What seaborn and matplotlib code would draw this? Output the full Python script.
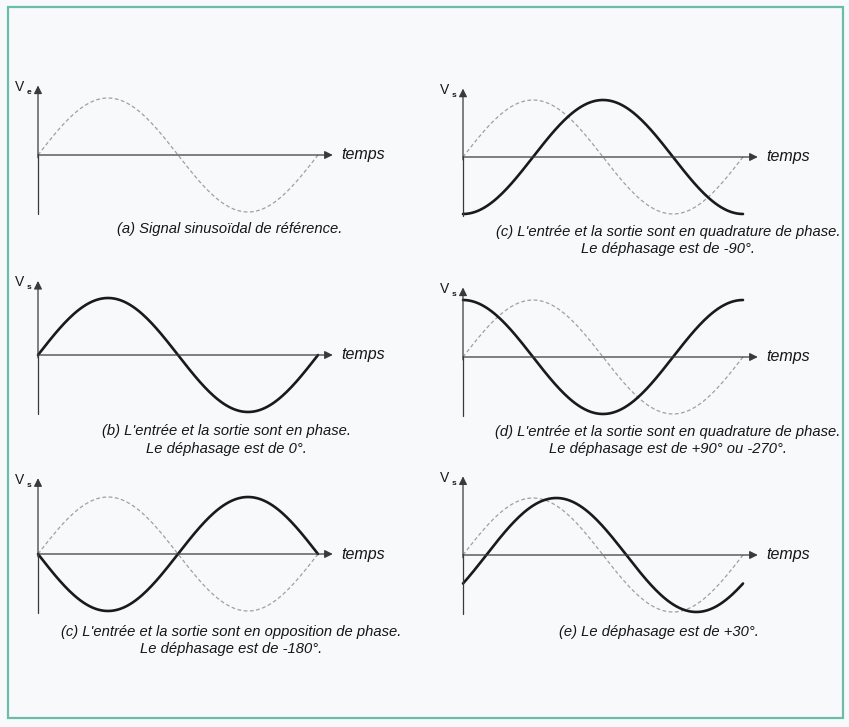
"""
Déphasage entre signal d'entrée et signal de sortie
"""

import numpy as np
import pandas as pd
import matplotlib.pyplot as plt
from matplotlib.patches import Rectangle
import seaborn as sns

sns.set_style("white")
plt.rcParams['font.family'] = ['Liberation Sans', 'DejaVu Sans']

# données : déphasage tracé (degrés) de la sortie par rapport à l'entrée
panneaux = ['a', 'b', 'c_opp', 'c_quad', 'd', 'e']
dephasages = [None, 0, -180, -90, 90, -30]
indices_v = ['e', 's', 's', 's', 's', 's']
legendes = [
    ["(a) Signal sinusoïdal de référence."],
    ["(b) L'entrée et la sortie sont en phase.", "Le déphasage est de 0°."],
    ["(c) L'entrée et la sortie sont en opposition de phase.", "Le déphasage est de -180°."],
    ["(c) L'entrée et la sortie sont en quadrature de phase.", "Le déphasage est de -90°."],
    ["(d) L'entrée et la sortie sont en quadrature de phase.", "Le déphasage est de +90° ou -270°."],
    ["(e) Le déphasage est de +30°."],
]
angles = np.arange(0, 361, 2)

# mise en page (pixels) : origine des axes, hauteur du trait vertical, légende
W, H = 849, 727
PERIODE, AMPL = 280, 57
x_orig = {'a': 38, 'b': 38, 'c_opp': 38, 'c_quad': 463, 'd': 463, 'e': 463}
y_orig = {'a': 155, 'b': 355, 'c_opp': 554, 'c_quad': 157, 'd': 357, 'e': 555}
haut_axe = {'a': 1.22, 'b': 1.3, 'c_opp': 1.33, 'c_quad': 1.2, 'd': 1.22, 'e': 1.38}
leg_x = {'a': 230, 'b': 226, 'c_opp': 231, 'c_quad': 668, 'd': 668, 'e': 659}
leg_y = {'a': 229, 'b': 431, 'c_opp': 632, 'c_quad': 232, 'd': 432, 'e': 632}

fig = plt.figure(figsize=(W / 100, H / 100), dpi=100)
fig.patch.set_facecolor('#f7f9fa')
fig.patches.append(Rectangle((8 / W, 1 - 718 / H), 835 / W, 711 / H,
                             transform=fig.transFigure, fill=False,
                             edgecolor='#6dbba9', lw=1.6))

gris_axe = '#3a3a3a'
encre = '#161616'
for nom, phi, idx, leg in zip(panneaux, dephasages, indices_v, legendes):
    x0, yc = x_orig[nom], y_orig[nom]
    ax = fig.add_axes([x0 / W, (H - yc - AMPL) / H, PERIODE / W, 2 * AMPL / H])
    ax.set_xlim(0, 360)
    ax.set_ylim(-1, 1)
    ax.axis('off')

    df = pd.DataFrame({'t': angles, 'entree': np.sin(np.radians(angles))})
    sns.lineplot(data=df, x='t', y='entree', ax=ax, color='#a0a0a0', lw=0.9,
                 linestyle=(0, (3, 2)), clip_on=False)
    if phi is not None:
        df['sortie'] = np.sin(np.radians(angles + phi))
        sns.lineplot(data=df, x='t', y='sortie', ax=ax, color='#1a1a1a', lw=1.9,
                     clip_on=False)

    # axes avec flèches
    ax.plot([0, 0], [-1.03, 0], color=gris_axe, lw=0.9, clip_on=False)
    ax.annotate('', xy=(0, haut_axe[nom]), xytext=(0, -0.05), annotation_clip=False,
                arrowprops=dict(arrowstyle='-|>', color=gris_axe, lw=0.9,
                                mutation_scale=12, shrinkA=0, shrinkB=0))
    ax.annotate('', xy=(379, 0), xytext=(0, 0), annotation_clip=False,
                arrowprops=dict(arrowstyle='-|>', color=gris_axe, lw=0.9,
                                mutation_scale=12, shrinkA=0, shrinkB=0))
    ax.text(390, 0, 'temps', style='italic', fontsize=11.5, va='center',
            ha='left', color=encre)
    ax.annotate('V', xy=(0, haut_axe[nom]), xytext=(-10, -1), textcoords='offset points',
                ha='right', va='center', fontsize=10, color=encre,
                annotation_clip=False)
    ax.annotate(idx, xy=(0, haut_axe[nom]), xytext=(-5, -5), textcoords='offset points',
                ha='right', va='center', fontsize=6, fontweight='bold',
                color=encre, annotation_clip=False)

    for i, ligne in enumerate(leg):
        fig.text(leg_x[nom] / W, 1 - (leg_y[nom] + 17.5 * i) / H, ligne,
                 ha='center', va='center', style='italic', fontsize=10.6,
                 color=encre)

plt.savefig('out.png', dpi=100, facecolor=fig.get_facecolor())
